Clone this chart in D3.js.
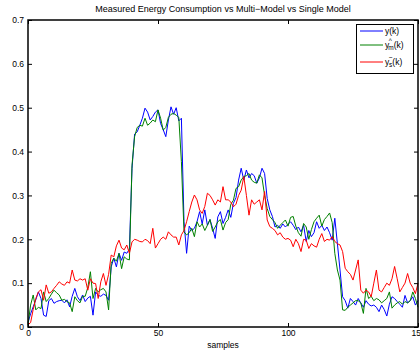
<!DOCTYPE html>
<html>
<head>
<meta charset="utf-8">
<script src="https://cdn.jsdelivr.net/npm/d3@7"></script>
<style>
  body { margin: 0; background: #fff; }
  svg { display: block; font-family: "Liberation Sans", Arial, Helvetica, sans-serif; }
</style>
</head>
<body>
<svg id="chart" width="420" height="352"></svg>
<script>
/*global d3
 */

// measured y(k), samples 0..150
const measured = [
  0.01, 0.03, 0.046, 0.062, 0.08, 0.065, 0.027, 0.024, 0.06, 0.065,
  0.054, 0.058, 0.06, 0.061, 0.055, 0.062, 0.046, 0.07, 0.088, 0.069,
  0.06, 0.073, 0.058, 0.066, 0.07, 0.027, 0.08, 0.072, 0.07, 0.075,
  0.072, 0.061, 0.137, 0.157, 0.137, 0.168, 0.152, 0.171, 0.168, 0.178,
  0.361, 0.44, 0.445, 0.46, 0.476, 0.499, 0.49, 0.472, 0.48, 0.49,
  0.495, 0.464, 0.45, 0.434, 0.472, 0.502, 0.485, 0.5, 0.47, 0.476,
  0.24, 0.168, 0.23, 0.22, 0.225, 0.24, 0.263, 0.235, 0.267, 0.232,
  0.245, 0.225, 0.202, 0.251, 0.263, 0.236, 0.25, 0.267, 0.25, 0.282,
  0.295, 0.335, 0.362, 0.335, 0.358, 0.34, 0.35, 0.345, 0.328, 0.34,
  0.362, 0.35, 0.293, 0.267, 0.252, 0.228, 0.232, 0.225, 0.235, 0.228,
  0.234, 0.24, 0.232, 0.222, 0.228, 0.217, 0.232, 0.195, 0.22, 0.206,
  0.215, 0.24, 0.225, 0.232, 0.22, 0.228, 0.215, 0.198, 0.248, 0.19,
  0.13, 0.069, 0.06, 0.043, 0.065, 0.058, 0.05, 0.065, 0.055, 0.045,
  0.06, 0.052, 0.048, 0.05, 0.045, 0.035, 0.05, 0.04, 0.025, 0.052,
  0.069, 0.065, 0.058, 0.052, 0.045, 0.072, 0.055, 0.06, 0.069, 0.05,
  0.06
];

// multi-model estimate
const multiModel = [
  0.005, 0.05, 0.073, 0.039, 0.045, 0.042, 0.08, 0.058, 0.065, 0.075,
  0.084, 0.078, 0.073, 0.061, 0.063, 0.058, 0.055, 0.035, 0.069, 0.06,
  0.055, 0.07, 0.07, 0.09, 0.126, 0.065, 0.088, 0.08, 0.085, 0.088,
  0.08, 0.039, 0.145, 0.157, 0.15, 0.168, 0.133, 0.16, 0.155, 0.153,
  0.369, 0.434, 0.455, 0.46, 0.458, 0.476, 0.46, 0.465, 0.472, 0.468,
  0.495, 0.476, 0.449, 0.455, 0.478, 0.485, 0.487, 0.483, 0.478, 0.377,
  0.217, 0.21, 0.215, 0.225, 0.206, 0.24, 0.228, 0.235, 0.22, 0.232,
  0.245, 0.218, 0.228, 0.24, 0.245, 0.221, 0.238, 0.245, 0.28, 0.289,
  0.316, 0.32, 0.335, 0.343, 0.345, 0.35, 0.335, 0.33, 0.328, 0.347,
  0.34, 0.3, 0.27, 0.252, 0.245, 0.238, 0.225, 0.232, 0.238, 0.244,
  0.23, 0.25, 0.252, 0.23, 0.215, 0.207, 0.236, 0.228, 0.2, 0.222,
  0.24, 0.248, 0.255, 0.23, 0.245, 0.252, 0.26, 0.238, 0.168, 0.13,
  0.107, 0.039, 0.038, 0.045, 0.05, 0.055, 0.06, 0.06, 0.055, 0.031,
  0.088, 0.065, 0.07, 0.06, 0.065, 0.062, 0.055, 0.06, 0.065, 0.08,
  0.043, 0.05, 0.055, 0.058, 0.052, 0.058, 0.055, 0.06, 0.08, 0.065,
  0.045
];

// single-model estimate
const singleModel = [
  0.005, 0.01, 0.04, 0.065, 0.08, 0.085, 0.061, 0.096, 0.077, 0.08,
  0.088, 0.095, 0.103, 0.098, 0.095, 0.103, 0.1, 0.13, 0.107, 0.105,
  0.11, 0.107, 0.11, 0.084, 0.11, 0.1, 0.099, 0.065, 0.103, 0.122,
  0.095, 0.12, 0.164, 0.16, 0.185, 0.198, 0.18, 0.176, 0.187, 0.168,
  0.194, 0.2, 0.198, 0.195, 0.194, 0.2, 0.197, 0.19, 0.225, 0.18,
  0.19, 0.2, 0.205, 0.2, 0.217, 0.21, 0.205, 0.205, 0.187, 0.21,
  0.22, 0.24, 0.263, 0.285, 0.301, 0.29, 0.267, 0.259, 0.275, 0.305,
  0.3, 0.29, 0.278, 0.29, 0.285, 0.32, 0.29, 0.29, 0.285, 0.274,
  0.28, 0.3, 0.312, 0.343, 0.3, 0.255, 0.29, 0.28, 0.285, 0.29,
  0.267, 0.309, 0.244, 0.229, 0.225, 0.22, 0.21, 0.215, 0.205, 0.2,
  0.202, 0.198, 0.183, 0.2, 0.19, 0.172, 0.2, 0.198, 0.179, 0.19,
  0.185, 0.182, 0.2, 0.213, 0.195, 0.2, 0.198, 0.206, 0.195, 0.19,
  0.187, 0.172, 0.134, 0.126, 0.12, 0.107, 0.13, 0.153, 0.084, 0.077,
  0.084, 0.08, 0.069, 0.1, 0.13, 0.084, 0.08, 0.09, 0.1, 0.095,
  0.11, 0.138, 0.11, 0.08, 0.09, 0.1, 0.122, 0.1, 0.09, 0.076,
  0.1
];

const xTicks = [0, 50, 100, 150];
const yTicks = [0, 0.1, 0.2, 0.3, 0.4, 0.5, 0.6, 0.7];

const series = [
  {values: measured, color: "#0000ff", sup: "", sub: ""},
  {values: multiModel, color: "#008000", sup: "^", sub: "m"},
  {values: singleModel, color: "#ff0000", sup: "~", sub: "s"}
];

const svg = d3.select("#chart");
const plotLeft = 28, plotRight = 418, plotTop = 20, plotBottom = 327;

const x = d3.scaleLinear().domain([0, 150]).range([plotLeft, plotRight]);
const y = d3.scaleLinear().domain([0, 0.7]).range([plotBottom, plotTop]);

const fmt = d3.format("~g");

// series lines
const line = d3.line()
  .x((d, i) => x(i))
  .y(d => y(d));

series.forEach(s => {
  svg.append("path")
    .datum(s.values)
    .attr("fill", "none")
    .attr("stroke", s.color)
    .attr("stroke-width", 1)
    .attr("stroke-linejoin", "round")
    .attr("d", line);
});

// axes, ticks pointing inward
function styleAxis(g) {
  g.select(".domain").remove();
  g.selectAll(".tick line").attr("stroke", "#000").attr("stroke-width", 1);
  g.selectAll(".tick text")
    .attr("fill", "#000")
    .attr("font-size", "8.5px")
    .attr("font-family", "Liberation Sans, Arial, sans-serif");
}

svg.append("g")
  .attr("transform", "translate(0," + plotBottom + ")")
  .call(d3.axisBottom(x).tickValues(xTicks).tickSize(-4).tickPadding(3).tickFormat(fmt))
  .call(styleAxis);

svg.append("g")
  .attr("transform", "translate(" + plotLeft + ",0)")
  .call(d3.axisLeft(y).tickValues(yTicks).tickSize(-4).tickPadding(4).tickFormat(fmt))
  .call(styleAxis);

svg.append("g")
  .attr("transform", "translate(0," + plotTop + ")")
  .call(d3.axisTop(x).tickValues(xTicks).tickSize(-4).tickFormat(""))
  .call(styleAxis);

svg.append("g")
  .attr("transform", "translate(" + plotRight + ",0)")
  .call(d3.axisRight(y).tickValues(yTicks).tickSize(-4).tickFormat(""))
  .call(styleAxis);

// box
svg.append("rect")
  .attr("x", plotLeft)
  .attr("y", plotTop)
  .attr("width", plotRight - plotLeft)
  .attr("height", plotBottom - plotTop)
  .attr("fill", "none")
  .attr("stroke", "#000")
  .attr("stroke-width", 1.5);

// title and label
svg.append("text")
  .attr("x", 223)
  .attr("y", 12)
  .attr("text-anchor", "middle")
  .attr("font-size", "9px")
  .text("Measured Energy Consumption vs Multi\u2212Model vs Single Model");

svg.append("text")
  .attr("x", 223)
  .attr("y", 348)
  .attr("text-anchor", "middle")
  .attr("font-size", "8.5px")
  .text("samples");

// legend
const legend = svg.append("g");
legend.append("rect")
  .attr("x", 356.5)
  .attr("y", 24.5)
  .attr("width", 57)
  .attr("height", 49)
  .attr("fill", "#fff")
  .attr("stroke", "#000")
  .attr("stroke-width", 1);

const legendY = [31, 45, 62];
series.forEach((s, i) => {
  const ly = legendY[i];
  legend.append("line")
    .attr("x1", 360)
    .attr("x2", 383)
    .attr("y1", ly)
    .attr("y2", ly)
    .attr("stroke", s.color)
    .attr("stroke-width", 1);

  const t = legend.append("text")
    .attr("x", 385)
    .attr("y", ly + 3)
    .attr("font-size", "8.5px");
  t.append("tspan").text("y");
  if (s.sub) {
    t.append("tspan").attr("dy", -5).attr("dx", -0.5).attr("font-size", "6.5px").text(s.sup);
    t.append("tspan").attr("dy", 7).attr("dx", -3.5).attr("font-size", "6.5px").text(s.sub);
    t.append("tspan").attr("dy", -2).text("(k)");
  } else {
    t.append("tspan").text("(k)");
  }
});
</script>
</body>
</html>
